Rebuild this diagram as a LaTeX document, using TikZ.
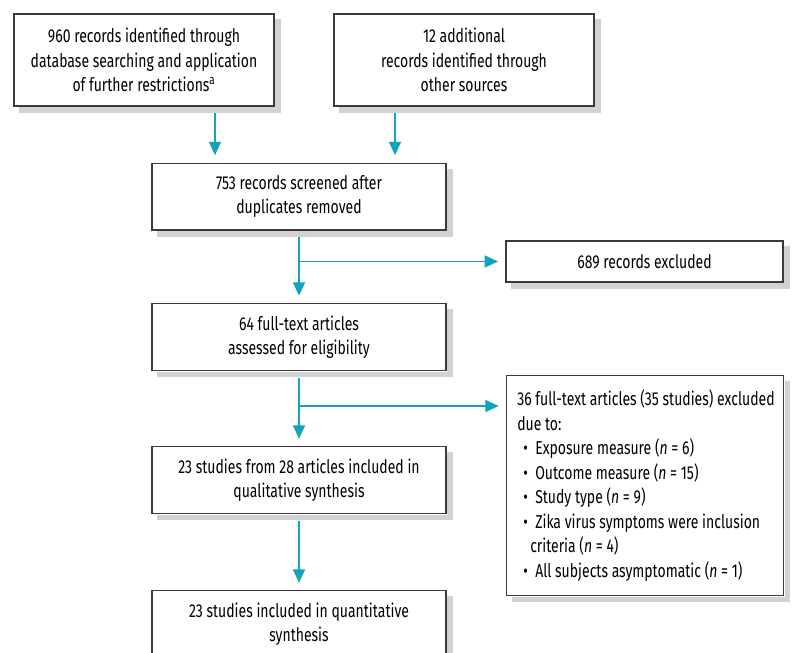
\documentclass[tikz,border=0pt]{standalone}
\usepackage{fontspec}
\setmainfont{Fira Sans}[FakeStretch=0.75]
\usetikzlibrary{arrows.meta,positioning}

\definecolor{flowteal}{RGB}{18,163,187}
\definecolor{boxline}{RGB}{58,58,58}
\definecolor{boxshade}{RGB}{210,210,210}

\newcommand{\dotitem}{\hspace*{4.5pt}\makebox[9pt][l]{\textbullet}}

\begin{document}
\begin{tikzpicture}[x=0.75pt,y=-0.75pt,font=\fontsize{14}{18.4}\selectfont]

    \tikzstyle{box}=[draw=boxline,line width=1pt,fill=white,inner sep=0pt,align=center]
    \tikzstyle{wide box}=[box,minimum width=195pt,minimum height=69pt]
    \tikzstyle{step box}=[box,minimum width=220.5pt,minimum height=50pt]
    \tikzstyle{flow}=[draw=flowteal,line width=1.2pt,-{Triangle[width=9pt,length=10pt]},shorten >=5.5pt]
    \tikzstyle{flow out}=[flow,shorten <=5pt]

    \useasboundingbox (0,0) rectangle (793,653);

    \node[wide box] (search)   at (144,60)  {960 records identified through\\database searching and application\\of further restrictions\textsuperscript{a}};
    \node[wide box] (other)    at (464,60)  {12 additional\\records identified through\\other sources};
    \node[step box] (screen)   at (299,196.5) {753 records screened after\\duplicates removed};
    \node[step box] (fulltext) at (299,337) {64 full-text articles\\assessed for eligibility};
    \node[step box] (qual)     at (299,480) {23 studies from 28 articles included in\\qualitative synthesis};
    \node[step box] (quant)    at (299,624) {23 studies included in quantitative\\synthesis};

    \node[box,minimum width=207.75pt,minimum height=30.75pt] (excl1) at (644.5,261.5) {689 records excluded};
    \node[box,anchor=north west,minimum width=207.75pt,minimum height=165pt] (excl2) at (506,375) {};
    \node[anchor=west,align=left,inner sep=0pt] (reasons) at ([xshift=8.25pt]excl2.west)
        {36 full-text articles (35 studies) excluded\\
         due to:\\
         \dotitem Exposure measure (\textit{n}~=~6)\\
         \dotitem Outcome measure (\textit{n}~=~15)\\
         \dotitem Study type (\textit{n}~=~9)\\
         \dotitem Zika virus symptoms were inclusion\\
         \hspace*{9.75pt}criteria (\textit{n}~=~4)\\
         \dotitem All subjects asymptomatic (\textit{n}~=~1)};

    % grey shadow strips, right and below each box
    \foreach \nm in {search,other,screen,fulltext,qual,quant,excl1,excl2}{
      \fill[boxshade] ([xshift=0.5pt,yshift=-4.5pt]\nm.north east) rectangle ([xshift=4.5pt,yshift=-4.5pt]\nm.south east);
      \fill[boxshade] ([xshift=4.5pt,yshift=-0.5pt]\nm.south west) rectangle ([xshift=4.5pt,yshift=-4.5pt]\nm.south east);
    }

    \coordinate (split2) at ([yshift=-26.25pt]fulltext.south);

    \draw[flow out] ([xshift=53.25pt]search.south) -- ([xshift=53.25pt]search.south |- screen.north);
    \draw[flow out] ([xshift=-51.75pt]other.south) -- ([xshift=-51.75pt]other.south |- screen.north);
    \draw[flow out] (screen.south) -- (fulltext.north);
    \draw[flow] (screen.south |- excl1.west) -- (excl1.west);
    \draw[flow out] (fulltext.south) -- (qual.north);
    \draw[flow] (split2) -- (split2 -| excl2.west);
    \draw[flow out] (qual.south) -- (quant.north);
  \end{tikzpicture}
\end{document}
